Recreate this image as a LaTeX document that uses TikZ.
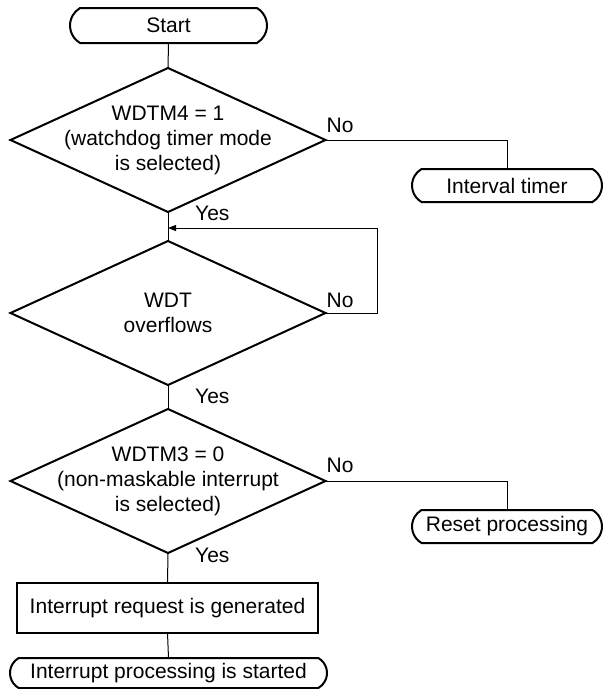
\documentclass[tikz,border=0pt]{standalone}
\usepackage{fontspec}
\setmainfont{Liberation Sans}
\usetikzlibrary{shapes.geometric,shapes.misc,arrows.meta,calc}
\begin{document}
\begin{tikzpicture}[x=1pt,y=-1pt,
  every node/.style={font=\fontsize{21}{25}\selectfont},
  dia/.style={draw,diamond,line width=2pt,minimum width=315pt,minimum height=144pt,inner sep=0pt,outer sep=0pt},
  term/.style={draw,rounded rectangle,rounded rectangle arc length=120,line width=2pt,inner sep=0pt,outer sep=0pt},
  proc/.style={draw,rectangle,line width=2pt,inner sep=0pt,outer sep=0pt},
  conn/.style={line width=1pt},
  lbl/.style={anchor=base west,inner sep=0pt},
  txt/.style={align=center,inner sep=0pt}]
\useasboundingbox (0,0) rectangle (603,689);
% shapes
\node[term,minimum width=197pt,minimum height=35pt] (start) at (168.5,25.5) {Start};
\node[dia] (d1) at (168,140) {};
\node[txt] (t1) at (d1) {WDTM4 = 1\\(watchdog timer mode\\is selected)};
\node[term,minimum width=190pt,minimum height=33pt] (int) at (507,185.5) {Interval timer};
\node[dia] (d2) at (168,313) {};
\node[txt] (t2) at (d2) {WDT\\overflows};
\node[dia] (d3) at (168,481) {};
\node[txt] (t3) at (d3) {WDTM3 = 0\\(non-maskable interrupt\\is selected)};
\node[term,minimum width=190pt,minimum height=33pt] (reset) at (507,526.5) {Reset processing};
\node[proc,minimum width=301pt,minimum height=50pt] (req) at (167.5,608) {Interrupt request is generated};
\node[term,minimum width=317pt,minimum height=30pt] (fin) at (168.5,673) {Interrupt processing is started};
% connectors
\coordinate (m) at (168,228);
\coordinate (lc) at (377,228);
\draw[conn] (start.south) -- (d1.north);
\draw[conn] (d1.south) -- (d2.north);
\draw[conn] (d1.east) -| (int.north);
\draw[conn,-{Triangle[length=8pt,width=6pt]}] (d2.east) -| (lc) -- (m);
\draw[conn] (d2.south) -- (d3.north);
\draw[conn] (d3.east) -| (reset.north);
\draw[conn] (d3.south) -- (req.north);
\draw[conn] (req.south) -- (fin.north);
% labels
\node[lbl] (no1) at ($(d1.east)+(1,-8)$) {No};
\node[lbl] (no2) at ($(d2.east)+(1,-6)$) {No};
\node[lbl] (no3) at ($(d3.east)+(1,-9)$) {No};
\node[lbl] (yes1) at (195,220) {Yes};
\node[lbl] (yes2) at (195,403) {Yes};
\node[lbl] (yes3) at (195,562) {Yes};
\end{tikzpicture}
\end{document}
